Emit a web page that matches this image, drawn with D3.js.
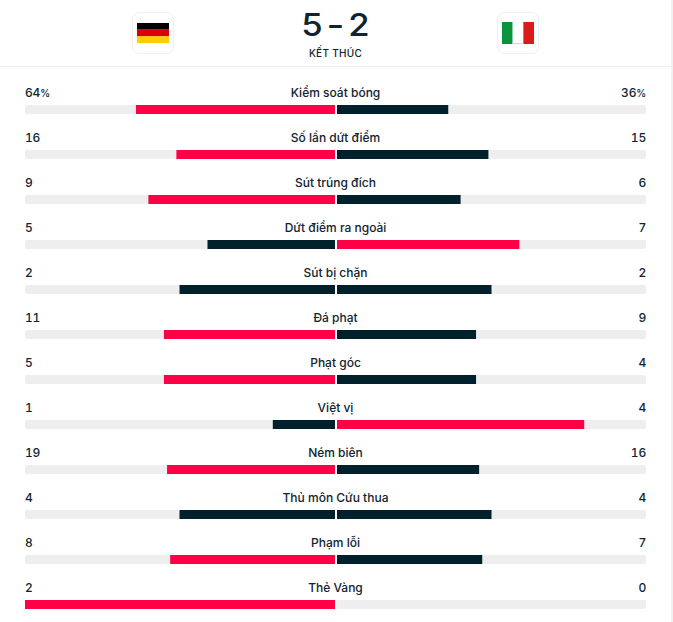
<!DOCTYPE html>
<html><head><meta charset="utf-8">
<script src="https://cdn.jsdelivr.net/npm/d3@7"></script>
<style>html,body{margin:0;padding:0;background:#fff;overflow:hidden}svg{display:block}text{font-family:Inter,Roboto,sans-serif}.num{font-variant-numeric:tabular-nums;font-feature-settings:"tnum" 1;letter-spacing:-.2px}</style>
</head><body><div id="c"></div>
<script>
const categories=["Kiểm soát bóng","Số lần dứt điểm","Sút trúng đích","Dứt điểm ra ngoài","Sút bị chặn","Đá phạt","Phạt góc","Việt vị","Ném biên","Thủ môn Cứu thua","Phạm lỗi","Thẻ Vàng"];
const homeValues=[64,16,9,5,2,11,5,1,19,4,8,2];
const awayValues=[36,15,6,7,2,9,4,4,16,4,7,0];
const homeShare=[64,51,60,41,50,55,55,20,54,50,53,100];
const suffixes=["%","","","","","","","","","","",""];
const score=["5","-","2"];
const status="KẾT THÚC";
const RED="#ff0046",DARK="#00212c",TRACK="#eeeeee",INK="#0f2330";

const W=673,H=622;
const svg=d3.select("#c").append("svg").attr("width",W).attr("height",H);
svg.append("rect").attr("x",671).attr("y",0).attr("width",2).attr("height",H).attr("fill","#f1f1f1");
svg.append("rect").attr("x",0).attr("y",66).attr("width",671).attr("height",1).attr("fill","#eeeeee");

// flags
function box(x){svg.append("rect").attr("x",x+.5).attr("y",12.5).attr("width",41).attr("height",41).attr("rx",7).attr("fill","#fff").attr("stroke","#f0f0f0");}
box(132);box(497);
["#000000","#dd0000","#ffce00"].forEach((c,i)=>svg.append("rect").attr("x",137).attr("y",23+i*6.67).attr("width",32).attr("height",6.67).attr("fill",c));
["#0a923c","#ffffff","#dc1a1a"].forEach((c,i)=>svg.append("rect").attr("x",502+i*10.67).attr("y",22).attr("width",10.67).attr("height",22).attr("fill",c));
svg.append("rect").attr("x",512.67).attr("y",43).attr("width",10.67).attr("height",1).attr("fill","#d8d8d8");

// score
const sx=d3.scalePoint().domain(score.map((d,i)=>i)).range([312,359]);
svg.selectAll("text.score").data(score).join("text").attr("class","score")
 .attr("x",(d,i)=>sx(i)).attr("y",36).attr("text-anchor","middle")
 .attr("font-size",31).attr("font-weight",500).attr("fill",INK)
 .attr("transform",(d,i)=>`translate(${sx(i)},0) scale(${i==1?1.25:1.12},1) translate(${-sx(i)},0)`)
 .text(d=>d);
svg.append("text").attr("x",335.5).attr("y",57).attr("text-anchor","middle").attr("font-size",10).attr("font-weight",500).attr("letter-spacing",.3).attr("fill",INK).text(status);

// rows
const y=d3.scaleBand().domain(d3.range(categories.length)).range([82,622]);
const leftX=d3.scaleLinear().domain([0,100]).range([335,24]);
const rightX=d3.scaleLinear().domain([0,100]).range([337,646]);
const rows=svg.selectAll("g.row").data(categories).join("g").attr("class","row").attr("transform",(d,i)=>`translate(0,${y(i)})`);
rows.append("rect").attr("x",25).attr("y",23).attr("width",621).attr("height",9).attr("rx",2).attr("fill",TRACK);
rows.append("rect").attr("x",335).attr("y",23).attr("width",2).attr("height",9).attr("fill","#fff");
rows.append("rect").attr("x",(d,i)=>Math.max(25,leftX(homeShare[i]))).attr("y",23)
 .attr("width",(d,i)=>335-Math.max(25,leftX(homeShare[i]))).attr("height",9)
 .attr("fill",(d,i)=>homeValues[i]>awayValues[i]?RED:DARK);
rows.append("rect").attr("x",337).attr("y",23)
 .attr("width",(d,i)=>rightX(100-homeShare[i])-337).attr("height",9)
 .attr("fill",(d,i)=>awayValues[i]>homeValues[i]?RED:DARK);
const lab=s=>s.attr("y",14.5).attr("font-size",12).attr("font-weight",500).attr("fill",INK);
function val(sel,arr){sel.each(function(d,i){const t=d3.select(this);t.append("tspan").text(arr[i]);if(suffixes[i])t.append("tspan").attr("font-size",10).text(suffixes[i]);});}
rows.append("text").attr("class","num").call(lab).attr("x",25).call(val,homeValues);
rows.append("text").attr("class","num").call(lab).attr("x",646).attr("text-anchor","end").call(val,awayValues);
rows.append("text").call(lab).attr("x",335.5).attr("text-anchor","middle").text(d=>d);
</script></body></html>
